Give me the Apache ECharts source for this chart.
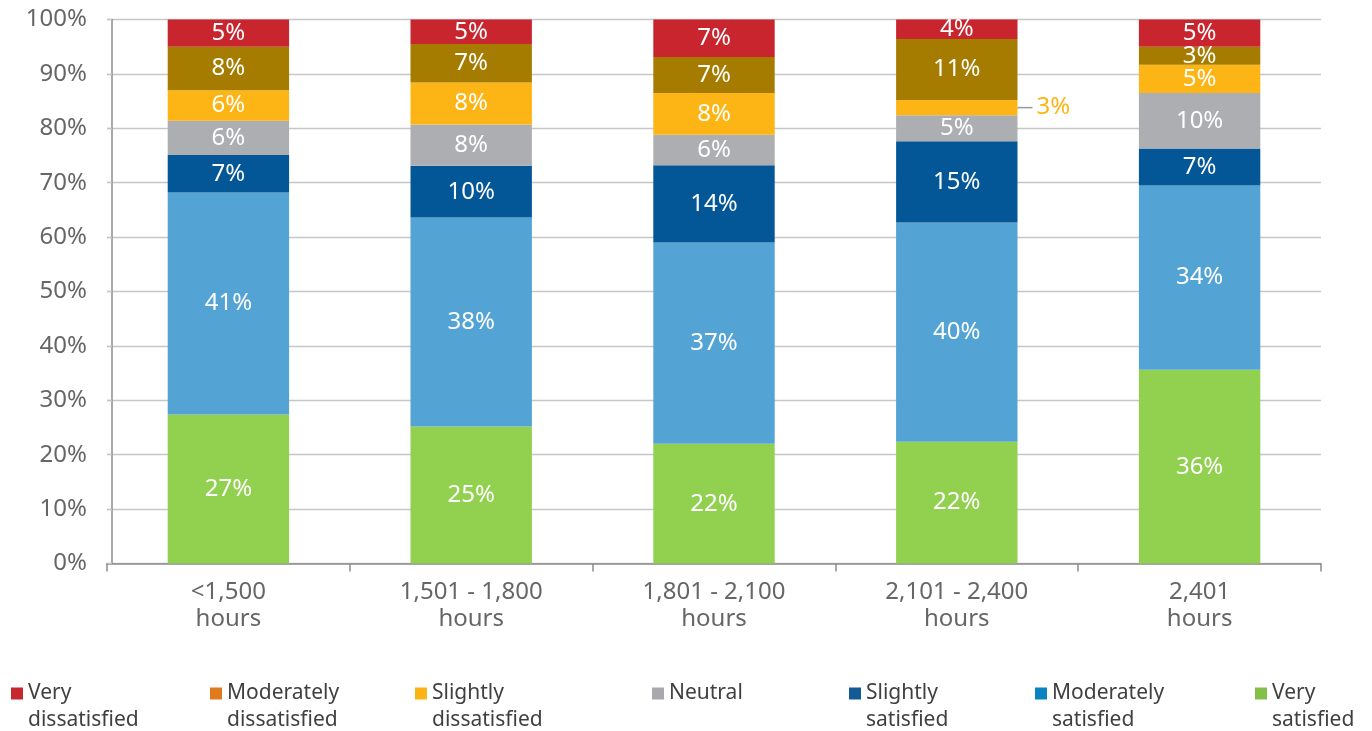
<!DOCTYPE html>
<html>
<head>
<meta charset="utf-8">
<script src="https://cdn.jsdelivr.net/npm/echarts@6/dist/echarts.min.js"></script>
<style>
html, body { margin: 0; padding: 0; background: #fff; }
#chart { width: 1372px; height: 731px; }
</style>
</head>
<body>
<div id="chart"></div>
<script>
const categories = ['<1,500\nhours', '1,501 - 1,800\nhours', '1,801 - 2,100\nhours', '2,101 - 2,400\nhours', '2,401\nhours'];
const verySatisfied          = [27.4, 25.2, 22.0, 22.4, 35.6];
const moderatelySatisfied    = [40.8, 38.4, 37.0, 40.3, 33.9];
const slightlySatisfied      = [6.9, 9.5, 14.2, 14.9, 6.8];
const neutral                = [6.3, 7.6, 5.6, 4.8, 10.2];
const slightlyDissatisfied   = [5.6, 7.7, 7.7, 2.8, 5.2];
const moderatelyDissatisfied = [8.0, 7.1, 6.6, 11.2, 3.3];
const veryDissatisfied       = [5.0, 4.5, 6.9, 3.6, 5.0];
const yTicks = [0, 10, 20, 30, 40, 50, 60, 70, 80, 90, 100];

const FONT = 'Noto Sans';
const calloutCategory = 3; // label drawn outside the bar (small segment)

const seriesDefs = [
  { name: 'Very satisfied', label: 'Very\nsatisfied', data: verySatisfied, bar: '#92D050', legend: '#84BF4A', left: 1255 },
  { name: 'Moderately satisfied', label: 'Moderately\nsatisfied', data: moderatelySatisfied, bar: '#53A4D4', legend: '#0A84C1', left: 1035 },
  { name: 'Slightly satisfied', label: 'Slightly\nsatisfied', data: slightlySatisfied, bar: '#045797', legend: '#145A96', left: 849 },
  { name: 'Neutral', label: 'Neutral', data: neutral, bar: '#ADAEB1', legend: '#A8A9AD', left: 652 },
  { name: 'Slightly dissatisfied', label: 'Slightly\ndissatisfied', data: slightlyDissatisfied, bar: '#FDB515', legend: '#FCB315', left: 415 },
  { name: 'Moderately dissatisfied', label: 'Moderately\ndissatisfied', data: moderatelyDissatisfied, bar: '#A67C00', legend: '#E07A1E', left: 210 },
  { name: 'Very dissatisfied', label: 'Very\ndissatisfied', data: veryDissatisfied, bar: '#C8252F', legend: '#C5282F', left: 11 }
];

const series = seriesDefs.map(function (d) {
  const data = d.data.map(function (v, i) {
    if (d.name === 'Slightly dissatisfied' && i === calloutCategory) {
      return {
        value: v,
        label: {
          position: 'right',
          distance: 0,
          formatter: function (p) { return '{ln| }{v|' + Math.round(p.value) + '%}'; },
          rich: {
            ln: { width: 15, height: 1.5, backgroundColor: '#9a9a9a', fontSize: 1 },
            v: { color: '#FDB515', fontSize: 24, fontFamily: FONT, padding: [0, 0, 0, 4] }
          }
        }
      };
    }
    return v;
  });
  return {
    name: d.name,
    type: 'bar',
    stack: 'total',
    barWidth: '50%',
    data: data,
    itemStyle: { color: d.bar },
    label: {
      show: true,
      position: 'inside',
      color: '#fff',
      fontSize: 24,
      fontFamily: FONT,
      formatter: function (p) { return Math.round(p.value) + '%'; }
    },
    emphasis: { disabled: true }
  };
});

const legends = seriesDefs.map(function (d) {
  const twoLine = d.label.indexOf('\n') >= 0;
  return {
    left: d.left,
    top: twoLine ? 653 : 680,
    padding: 0,
    itemWidth: 12,
    itemHeight: 12,
    icon: 'rect',
    data: [{ name: d.name, itemStyle: { color: d.legend } }],
    formatter: function () { return twoLine ? '\n' + d.label : d.label; },
    textStyle: { color: '#404040', fontSize: 21, fontFamily: FONT, lineHeight: 27 }
  };
});

const chart = echarts.init(document.getElementById('chart'), null, { renderer: 'canvas' });
chart.setOption({
  animation: false,
  backgroundColor: '#fff',
  legend: legends,
  grid: { left: 107, right: 51, top: 19.5, bottom: 167.5, containLabel: false },
  xAxis: {
    type: 'category',
    data: categories,
    axisLine: { lineStyle: { color: '#8c8c8c', width: 1.5 } },
    axisTick: { show: true, length: 8, lineStyle: { color: '#8c8c8c', width: 1.5 } },
    axisLabel: { color: '#666', fontSize: 24, fontFamily: FONT, lineHeight: 27, margin: 15 }
  },
  yAxis: {
    type: 'value',
    min: yTicks[0],
    max: yTicks[yTicks.length - 1],
    interval: yTicks[1] - yTicks[0],
    offset: -5,
    axisLine: { show: true, lineStyle: { color: '#8c8c8c', width: 1.5 } },
    axisTick: { show: true, length: 5, lineStyle: { color: '#c6c6c6', width: 1.3 } },
    splitLine: { lineStyle: { color: '#c6c6c6', width: 1.3 } },
    axisLabel: { color: '#666', fontSize: 24, fontFamily: FONT, margin: 25, formatter: '{value}%' }
  },
  series: series
});
</script>
</body>
</html>
